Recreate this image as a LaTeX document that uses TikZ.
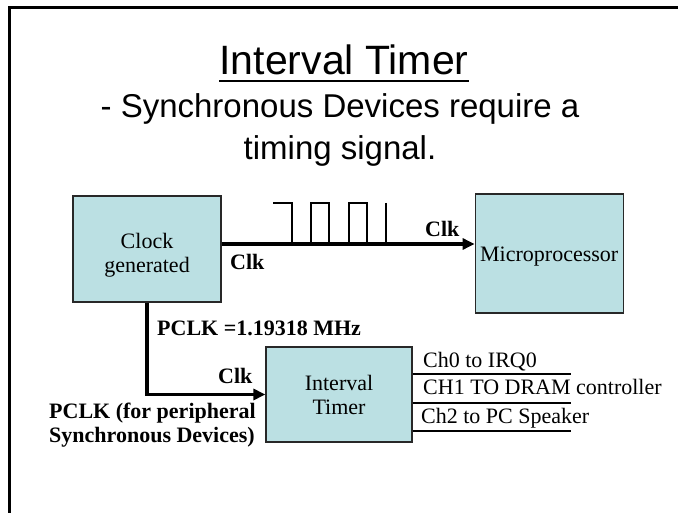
\documentclass[tikz,border=0pt]{standalone}
\usepackage{fontspec}
\setmainfont{Liberation Serif}
\newfontfamily\slidefont{Liberation Sans}
\usetikzlibrary{arrows.meta,positioning}
\definecolor{boxfill}{RGB}{187,224,227}
\definecolor{boxline}{RGB}{40,40,40}

\begin{document}
\begin{tikzpicture}[x=1pt, y=-1pt,
  block/.style={draw=boxline,fill=boxfill,line width=1.2pt,inner sep=0pt,align=center,font=\fontsize{22}{24}\selectfont},
  arrow/.style={-{Triangle[length=12pt,width=11pt]},line width=3.8pt},
  wire/.style={line width=1.2pt},
  lbl/.style={inner sep=0pt,anchor=base west,font=\fontsize{22}{24}\selectfont},
  blbl/.style={inner sep=0pt,anchor=base west,align=left,font=\fontsize{22}{24}\selectfont\bfseries}]
  \useasboundingbox (0,0) rectangle (678,513);
  % slide frame
  \draw[line width=3pt] (9.5,513) -- (9.5,7.5) -- (678,7.5);
  % heading
  \node[inner sep=0pt,anchor=base,font=\slidefont\fontsize{41}{49}\selectfont] (title) at (344,75) {Interval Timer};
  \draw[line width=1.6pt] ([yshift=-6pt]title.base west) -- ([yshift=-6pt]title.base east);
  \node[inner sep=0pt,anchor=base,align=center,font=\slidefont\fontsize{33}{42}\selectfont] (sub) at (340,160) {- Synchronous Devices require a\\timing signal.};
  % blocks
  \node[block,minimum width=148pt,minimum height=106pt,text height=52pt] (clock) at (147,249) {Clock\\generated};
  \node[block,minimum width=148pt,minimum height=119pt,text height=21pt,right=253pt of clock,yshift=-4.5pt] (micro) {Microprocessor};
  \node[block,minimum width=146pt,minimum height=95pt] (timer) at (339,394.5) {Interval\\Timer};
  % clock line and pulses
  \draw[arrow] ([yshift=5pt]clock.east) coordinate (clkout) -- (clkout -| micro.west);
  \draw[wire] (273,203) -- (292,203) -- (292,244);
  \foreach \x in {311,349}
    \draw[wire] (\x,244) -- (\x,203) -- ++(18,0) -- ++(0,41);
  \draw[wire] (386,203) -- (386,244);
  \node[blbl] (clka) at (230,270) {Clk};
  \node[blbl] (clkb) at (425,237) {Clk};
  % peripheral clock
  \draw[arrow] (clock.south) |- (timer.west);
  \node[blbl] (pclk) at (157,335) {PCLK =1.19318 MHz};
  \node[blbl] (clkc) at (218,383) {Clk};
  \node[blbl] (pdev) at (49,442) {PCLK (for peripheral\\Synchronous Devices)};
  % timer outputs
  \coordinate (ch0) at (571,374);
  \coordinate (ch1) at (571,403);
  \coordinate (ch2) at (571,431);
  \draw[wire] (ch0 -| timer.east) -- (ch0);
  \draw[wire] (ch1 -| timer.east) -- (ch1);
  \draw[wire] (ch2 -| timer.east) -- (ch2);
  \node[lbl] (lch0) at (423,367) {Ch0 to IRQ0};
  \node[lbl] (lch1) at (423,395) {CH1 TO DRAM controller};
  \node[lbl] (lch2) at (421,423) {Ch2 to PC Speaker};
\end{tikzpicture}
\end{document}
